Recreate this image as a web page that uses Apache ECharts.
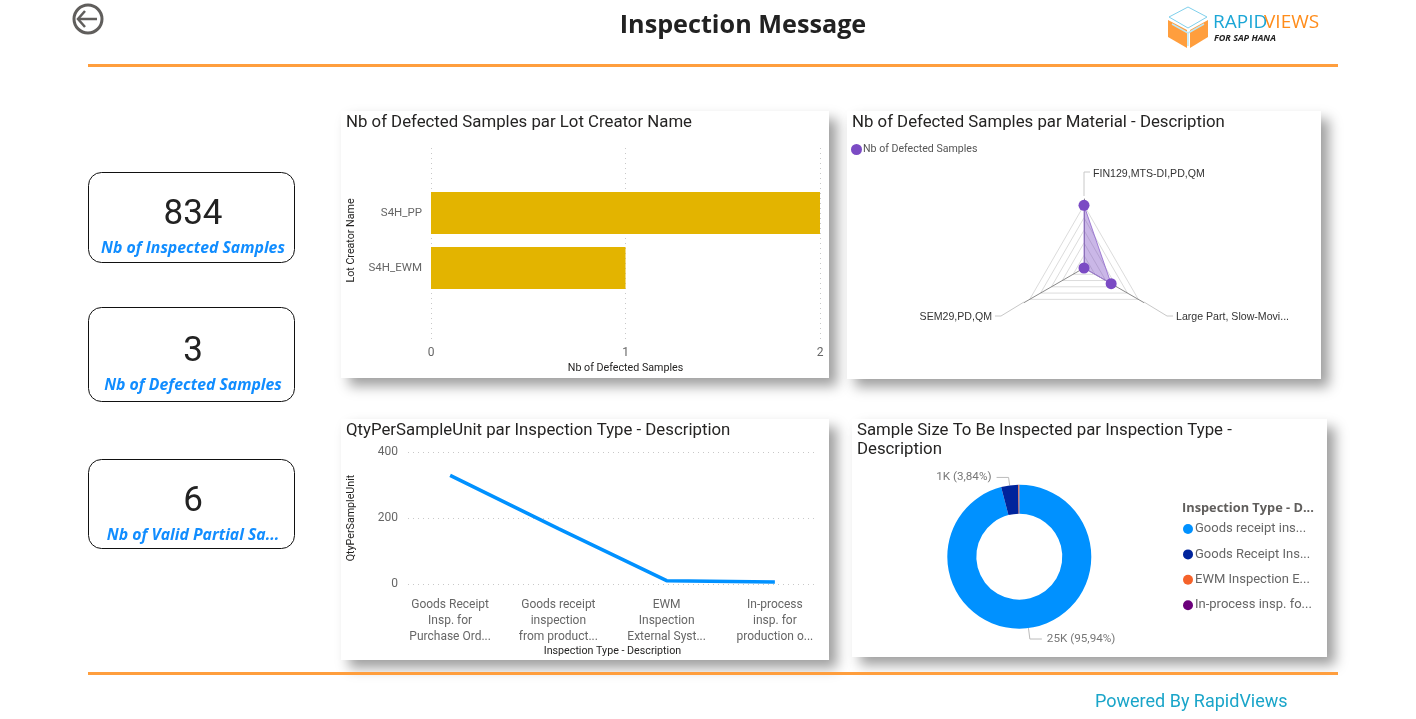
<!DOCTYPE html>
<html><head><meta charset="utf-8">
<script src="https://cdn.jsdelivr.net/npm/echarts@6/dist/echarts.min.js"></script>
<style>html,body{margin:0;padding:0;background:#fff}#c{width:1416px;height:719px}</style>
</head><body><div id="c"></div>
<script>
const pageTitle = 'Inspection Message';
const footerText = 'Powered By RapidViews';
const kpiValues = ['834', '3', '6'];
const kpiLabels = ['Nb of Inspected Samples', 'Nb of Defected Samples', 'Nb of Valid Partial Sa...'];

const barTitle = 'Nb of Defected Samples par Lot Creator Name';
const barCategories = ['S4H_PP', 'S4H_EWM'];
const barValues = [2, 1];

const radarTitle = 'Nb of Defected Samples par Material - Description';
const radarSeriesName = 'Nb of Defected Samples';
const radarIndicators = ['FIN129,MTS-DI,PD,QM', 'SEM29,PD,QM', 'Large Part, Slow-Movi...'];
const radarValues = [2, 0, 1];

const lineTitle = 'QtyPerSampleUnit par Inspection Type - Description';
const lineCategories = ['Goods Receipt\nInsp. for\nPurchase Ord...', 'Goods receipt\ninspection\nfrom product...', 'EWM\nInspection\nExternal Syst...', 'In-process\ninsp. for\nproduction o...'];
const lineValues = [329, 168, 10, 6];

const pieTitle = 'Sample Size To Be Inspected par Inspection Type -\nDescription';
const pieLegendTitle = 'Inspection Type - D...';
const pieCategories = ['Goods receipt ins...', 'Goods Receipt Ins...', 'EWM Inspection E...', 'In-process insp. fo...'];
const pieValues = [24960, 999, 50, 8];
const pieLabels = ['25K (95,94%)', '1K (3,84%)', '', ''];
const pieColors = ['#0091FF', '#00249C', '#F5622A', '#6B007B'];

const DIN = 'Roboto, sans-serif';
const SEG = '"Open Sans", sans-serif';
const ink = '#252423', grey = '#666666', gridC = '#c8c8c8';

function T(text, x, y, font, fill, align) {
  return {type:'text', x, y, z:5, style:{text, font, fill, align:align||'left', verticalAlign:'middle'}};
}
function panel(x, y, w, h) {
  return {type:'rect', z:-10, shape:{x, y, width:w, height:h},
    style:{fill:'#fff', shadowBlur:12, shadowOffsetX:8, shadowOffsetY:8, shadowColor:'rgba(0,0,0,0.38)'}};
}
function card(y, h) {
  return {type:'rect', z:-5, shape:{x:88.5, y:y+.5, width:206, height:h, r:13},
    style:{fill:'#fff', stroke:'#111', lineWidth:1}};
}
function rule(y) { return {type:'rect', shape:{x:88, y:y, width:1250, height:3}, style:{fill:'#FF9E3D'}}; }
function leader(points) {
  return {type:'polyline', z:1, shape:{points}, style:{fill:'none', stroke:'#c8c8c8', lineWidth:1}};
}
const cardBoxes = [[172, 90, 215, 248], [307, 94, 352, 385], [459, 89, 502, 535]];
const graphics = [
  panel(341, 111, 488, 267), panel(847, 111, 474, 268), panel(341, 419, 488, 241), panel(852, 419, 475, 238),
  rule(64), rule(672),
  {type:'circle', shape:{cx:88, cy:19, r:14}, style:{fill:'none', stroke:'#605E5C', lineWidth:3}},
  {type:'polyline', shape:{points:[[85,11],[78,19],[85,27]]}, style:{fill:'none', stroke:'#605E5C', lineWidth:2.5}},
  {type:'line', shape:{x1:78, y1:19, x2:97, y2:19}, style:{stroke:'#605E5C', lineWidth:2.5}},
  T(pageTitle, 743, 26, 'bold 25.2px '+SEG, '#222', 'center'),
  {type:'polygon', shape:{points:[[1168,20],[1187,30],[1187,48],[1168,37]]}, style:{fill:'#FF9E3D'}},
  {type:'polygon', shape:{points:[[1208,20],[1190,30],[1190,48],[1208,37]]}, style:{fill:'#FF9E3D'}},
  {type:'polygon', shape:{points:[[1188,7],[1207,17],[1188,28],[1169,17]]}, style:{fill:'#fff', stroke:'#7FD0EC', lineWidth:1}},
  {type:'polyline', shape:{points:[[1172,24],[1188,33],[1188,46]]}, style:{fill:'none', stroke:'#BDE7F5', lineWidth:1.5}},
  {type:'line', shape:{x1:1188, y1:33, x2:1204, y2:24}, style:{stroke:'#BDE7F5', lineWidth:1.5}},
  T('RAPID', 1213, 23, '19px '+SEG, '#1BA6D6'),
  T('VIEWS', 1264, 23, '19px '+SEG, '#FF8C1A'),
  T('FOR SAP HANA', 1214, 38, 'italic bold 9px '+SEG, '#222'),
  T(footerText, 1095, 702, '18px '+DIN, '#1AA5C9'),
  T(pieLegendTitle, 1182, 508, 'bold 12.8px '+SEG, '#605E5C'),
  T(radarIndicators[0], 1093, 174, '10.6px "Liberation Sans"', '#333'),
  T(radarIndicators[1], 992, 317, '10.6px "Liberation Sans"', '#333', 'right'),
  T(radarIndicators[2], 1176, 317, '10.6px "Liberation Sans"', '#333'),
  leader([[1090,172],[1084,172],[1084,196]]),
  leader([[995,316],[1001,316],[1024,302]]),
  leader([[1173,316],[1167,316],[1144,302]])
];
cardBoxes.forEach((b, i) => {
  graphics.push(card(b[0], b[1]));
  graphics.push(T(kpiValues[i], 193, b[2], '35px '+DIN, '#222', 'center'));
  graphics.push(T(kpiLabels[i], 193, b[3], 'italic bold 15.8px '+SEG, '#118DFF', 'center'));
});

const axisLab = {color:grey, fontSize:12, fontFamily:DIN};
const nameSt = {color:ink, fontSize:10.7, fontFamily:DIN};
const dotted = {show:true, lineStyle:{type:[1,4], color:gridC, width:1}};
const off = {show:false};

const option = {
  animation:false,
  backgroundColor:'#fff',
  title:[
    {text:barTitle, left:346, top:113},
    {text:radarTitle, left:852, top:113},
    {text:lineTitle, left:346, top:421},
    {text:pieTitle, left:857, top:421}
  ].map(t => Object.assign(t, {padding:0, textStyle:{fontFamily:DIN, fontWeight:'normal', fontSize:16.8, color:ink, lineHeight:19}})),
  graphic:{elements:graphics},
  legend:[
    {data:[radarSeriesName], left:851, top:144, itemWidth:11, itemHeight:11, icon:'circle', selectedMode:false, padding:0,
     textStyle:{fontSize:10.6, color:'#555', fontFamily:DIN, padding:[2,0,0,-4]}},
    {data:pieCategories, orient:'vertical', left:1183, top:521, itemWidth:10, itemHeight:10, itemGap:9.4, icon:'circle', selectedMode:false, padding:0,
     textStyle:{fontSize:13, color:grey, fontFamily:DIN, padding:[1,0,0,-3], lineHeight:15}}
  ],
  grid:[
    {left:431, width:389, top:148, height:194},
    {left:431, width:389, top:185.5, height:110},
    {left:408, width:409, top:452, height:132},
    {left:396, width:433, top:452, height:132}
  ],
  xAxis:[
    {type:'value', gridIndex:0, min:0, max:2, interval:1, axisLine:off, axisTick:off, splitLine:dotted,
     axisLabel:Object.assign({margin:5}, axisLab), name:'Nb of Defected Samples', nameLocation:'middle', nameGap:21, nameTextStyle:nameSt},
    {type:'value', gridIndex:1, min:0, max:2, interval:1, show:false},
    {type:'category', gridIndex:2, data:lineCategories, show:false},
    {type:'category', gridIndex:3, data:lineCategories, axisLine:off, axisTick:off,
     axisLabel:Object.assign({margin:13, interval:0, lineHeight:16, align:'center'}, axisLab),
     name:'Inspection Type - Description', nameLocation:'middle', nameGap:61, nameTextStyle:nameSt}
  ],
  yAxis:[
    {type:'value', gridIndex:0, min:0, max:1, show:false},
    {type:'category', gridIndex:1, data:barCategories, inverse:true, axisLine:off, axisTick:off, splitLine:off,
     axisLabel:Object.assign({margin:9, padding:[2,0,0,0]}, axisLab, {fontSize:11.5}), name:'Lot Creator Name', nameLocation:'middle', nameGap:74, nameRotate:90, nameTextStyle:nameSt},
    {type:'value', gridIndex:2, min:0, max:400, interval:200, axisLine:off, axisTick:off, splitLine:dotted,
     axisLabel:Object.assign({margin:10, padding:[2,0,0,0]}, axisLab), name:'QtyPerSampleUnit', nameLocation:'middle', nameGap:51, nameRotate:90, nameTextStyle:nameSt},
    {type:'value', gridIndex:3, min:0, max:400, interval:200, show:false}
  ],
  radar:[
    {center:[1084,268], radius:62.7, startAngle:90, splitNumber:5, shape:'polygon',
     indicator:radarIndicators.map(n => ({name:n, min:0, max:2})),
     axisName:{show:false}, axisLine:{show:false}, axisTick:{show:false}, axisLabel:{show:false},
     splitArea:{show:false}, splitLine:{lineStyle:{color:'#dcdcdc', width:1}}},
    {center:[1084,268], radius:69, startAngle:90, splitNumber:1, shape:'polygon',
     indicator:radarIndicators.map(n => ({name:n, min:0, max:2})),
     axisName:{show:false}, axisLine:{lineStyle:{color:'#8a8a8a', width:1}}, axisTick:{show:false}, axisLabel:{show:false},
     splitArea:{show:false}, splitLine:{show:false}}
  ],
  series:[
    {type:'bar', xAxisIndex:1, yAxisIndex:1, data:barValues, barWidth:42, itemStyle:{color:'#E3B400'}, silent:true},
    {type:'line', xAxisIndex:3, yAxisIndex:3, data:lineValues, showSymbol:false, lineStyle:{color:'#0091FF', width:3.5}, silent:true},
    {type:'radar', radarIndex:0, name:radarSeriesName, symbol:'circle', symbolSize:11,
     itemStyle:{color:'#7B4BC4'}, lineStyle:{color:'#A98BD9', width:1}, areaStyle:{color:'#7B4BC4', opacity:.4},
     data:[{name:radarSeriesName, value:radarValues}], silent:true},
    {type:'pie', center:[1019.3,556.7], radius:[43,72], startAngle:90, silent:true, avoidLabelOverlap:false,
     data:pieCategories.map((n, i) => ({name:n, value:pieValues[i],
       itemStyle:{color:pieColors[i]},
       label:{show:!!pieLabels[i], formatter:pieLabels[i], padding:i===1?[3,0,0,0]:0},
       labelLine:{show:!!pieLabels[i], length:i===0?11:8, length2:12}})),
     label:{position:'outside', color:'#777', fontSize:11.7, fontFamily:DIN},
     labelLine:{length:8, length2:12, smooth:false, lineStyle:{color:'#bbb', width:1}}}
  ]
};
echarts.init(document.getElementById('c')).setOption(option);
</script></body></html>
